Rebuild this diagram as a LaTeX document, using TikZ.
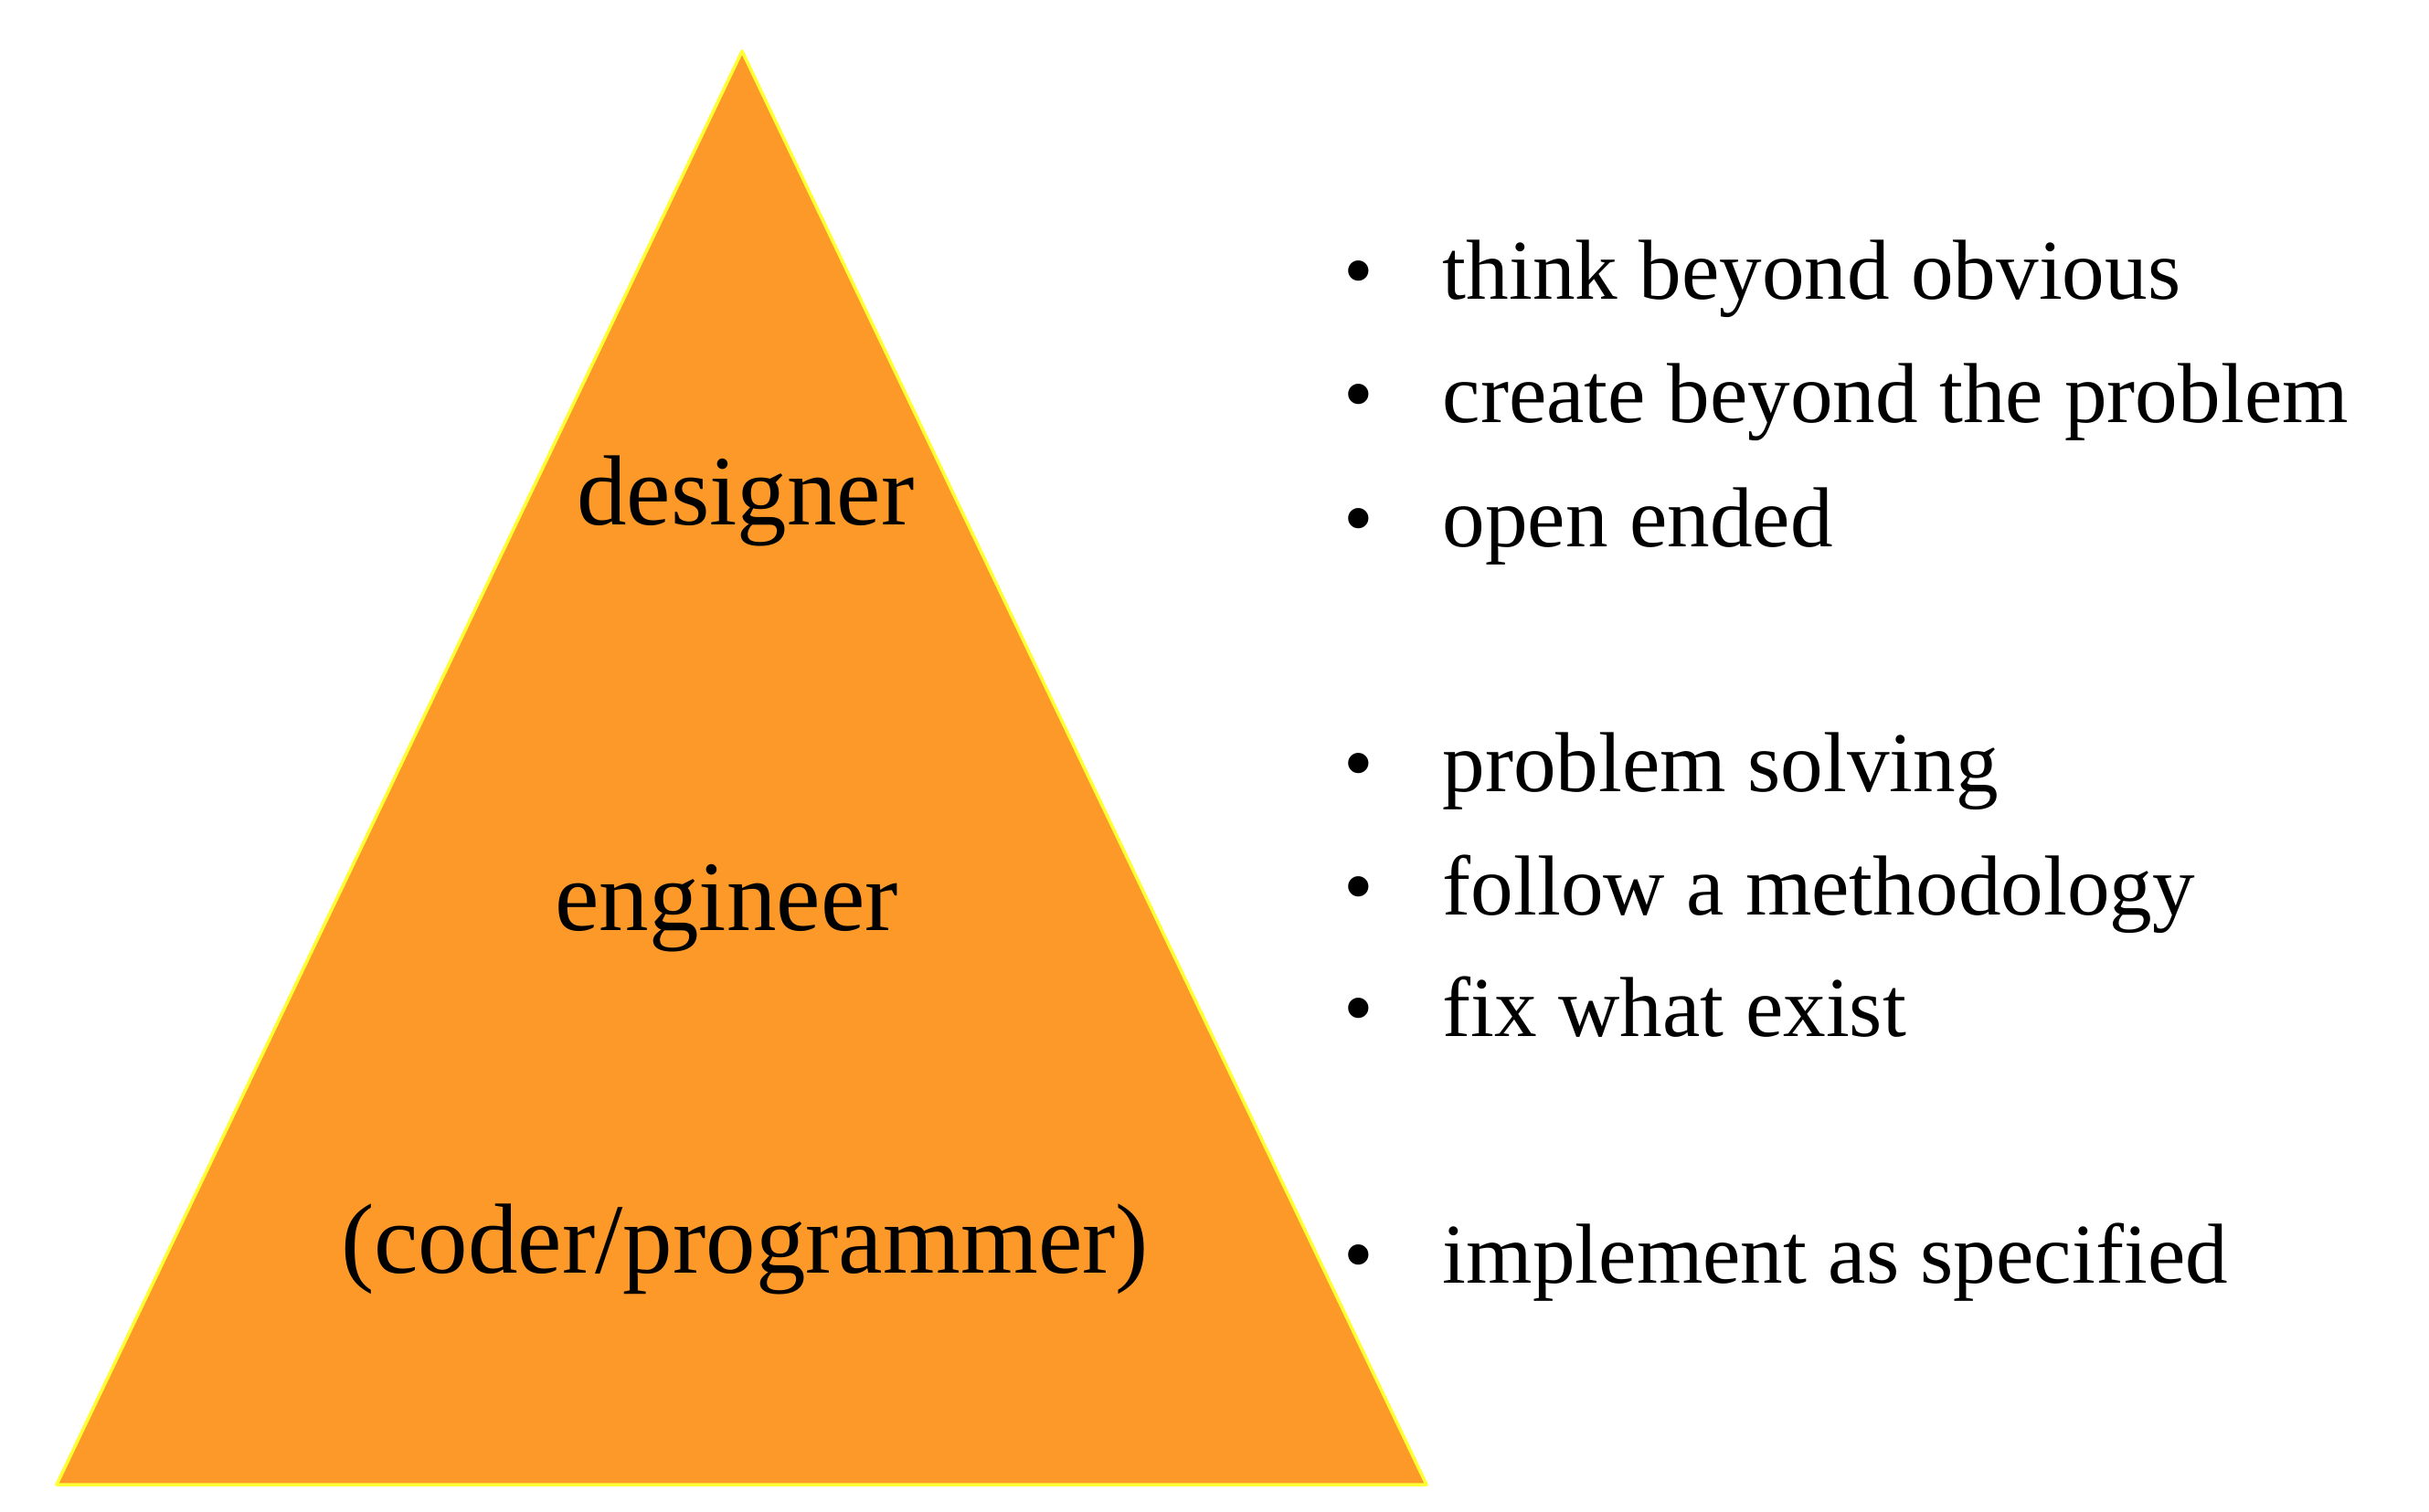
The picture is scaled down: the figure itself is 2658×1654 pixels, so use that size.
\documentclass[tikz,border=0pt]{standalone}
\usepackage{fontspec}
\setmainfont{Liberation Serif}
\definecolor{pyrorange}{RGB}{252,153,41}
\definecolor{pyryellow}{RGB}{255,255,51}
\newcommand{\trbullet}{\makebox[1.08cm][l]{\textbullet}}
\tikzset{
  tier/.style={anchor=base,inner sep=0pt,font=\fontsize{31}{37}\selectfont},
  trait/.style={anchor=base west,inner sep=0pt,font=\fontsize{26.5}{32}\selectfont}
}
\begin{document}
\begin{tikzpicture}[x=0.01cm,y=-0.01cm]
	\useasboundingbox (0,0) rectangle (2658,1654);
	% pyramid
	\path[draw=pyryellow,fill=pyrorange,line width=1pt,line join=round] (812,56)--(62,1625)--(1561,1625)--cycle;
	\node[tier] (designer) at (816,574) {designer};
	\node[tier] (engineer) at (795,1018) {engineer};
	\node[tier] (coder) at (815,1393) {(coder/programmer)};
	% traits
	\node[trait] (think) at (1470,327) {\trbullet think beyond obvious};
	\node[trait] (create) at (1470,462) {\trbullet create beyond the problem};
	\node[trait] (open) at (1470,598) {\trbullet open ended};
	\node[trait] (solving) at (1470,866) {\trbullet problem solving};
	\node[trait] (follow) at (1470,1001) {\trbullet follow a methodology};
	\node[trait] (fix) at (1470,1134) {\trbullet fix what exist};
	\node[trait] (implement) at (1470,1404) {\trbullet implement as specified};
\end{tikzpicture}
\end{document}
